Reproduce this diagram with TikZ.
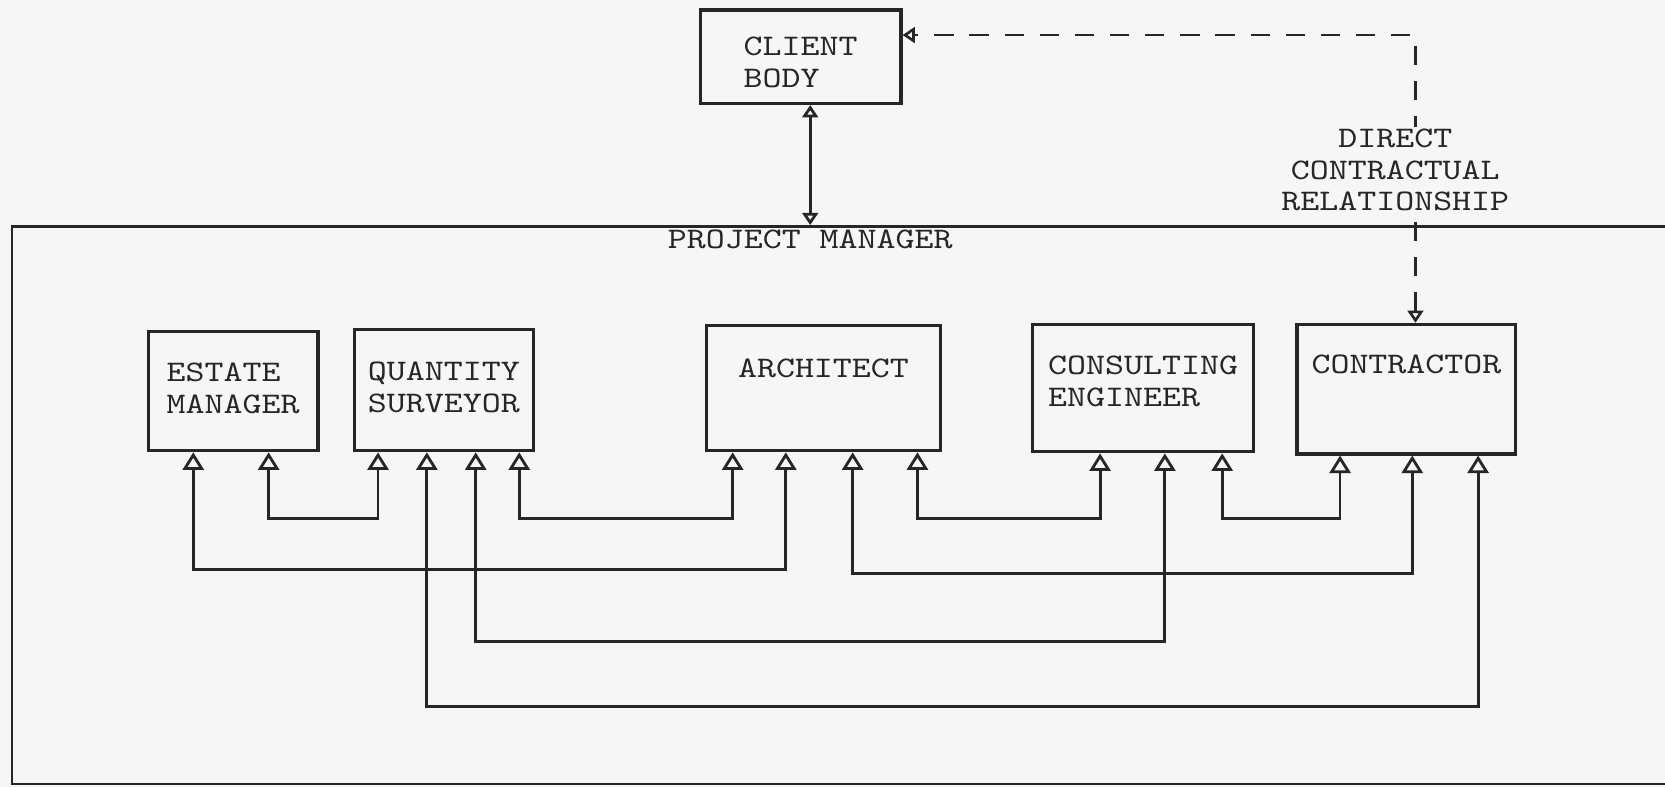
\documentclass[tikz,border=0pt]{standalone}
\usepackage{fontspec}
\usepackage{tikz}
\usetikzlibrary{arrows.meta,calc}
\newfontfamily\twfont{lmmono10-regular.otf}[FakeStretch=1.21]
\definecolor{ink}{RGB}{38,38,38}
\definecolor{paper}{RGB}{246,246,246}
\newlength\px
\setlength\px{0.021238cm}
\tikzset{
  box/.style  ={draw=ink, line width=1.8pt, inner sep=0pt, align=left, text=ink, anchor=north west,
                font=\twfont\fontsize{17}{18}\selectfont},
  frame/.style={draw=ink, line width=1.4pt, inner sep=0pt, anchor=north west},
  lbl/.style  ={text=ink, align=center, inner sep=1pt, font=\twfont\fontsize{17}{18}\selectfont},
  link/.style ={{Triangle[open,length=10pt,width=12pt]}-{Triangle[open,length=10pt,width=12pt]}, draw=ink, line width=1.6pt},
  plink/.style={{Triangle[open,length=7pt,width=9pt]}-{Triangle[open,length=7pt,width=9pt]}, draw=ink, line width=1.6pt},
  dlink/.style={{Triangle[open,length=7pt,width=9pt]}-{Triangle[open,length=7pt,width=9pt]}, draw=ink, line width=1.5pt,
                dash pattern=on 11pt off 9pt}
}
\begin{document}
\begin{tikzpicture}[x=0.021238cm, y=-0.021238cm]
  \useasboundingbox[fill=paper] (0,0) rectangle (1568,741);
  \clip (0,0) rectangle (1568,741);
  \node[frame, minimum width=1580\px, minimum height=525\px] (pm) at (10,212) {};
  \node[lbl] (pmtitle) at (763,225) {PROJECT MANAGER};
  \node[box, minimum width=189\px, minimum height=88\px, text height=73\px, text depth=15\px] (client) at (658,8) {CLIENT\\BODY};
  \node[box, minimum width=160\px, minimum height=112\px, text height=77\px, text depth=35\px] (em) at (138,311) {ESTATE\\MANAGER};
  \node[box, minimum width=169\px, minimum height=114\px, text height=78\px, text depth=36\px] (qs) at (332,309) {QUANTITY\\SURVEYOR};
  \node[box, minimum width=220\px, minimum height=118\px, text height=49\px, text depth=69\px] (arch) at (664,305) {ARCHITECT};
  \node[box, minimum width=208\px, minimum height=120\px, text height=77\px, text depth=43\px] (ce) at (971,304) {CONSULTING\\ENGINEER};
  \node[box, minimum width=206\px, minimum height=122\px, text height=46\px, text depth=76\px] (con) at (1220,304) {CONTRACTOR};
  \draw[plink] (client.south -| pmtitle) -- (pm.north -| pmtitle);
  \draw[dlink] ($(con.north west)+(113,0)$) |- ($(client.north east)+(0,25)$);
  \node[lbl, fill=paper] (rel) at (1314,160) {DIRECT\\CONTRACTUAL\\RELATIONSHIP};
  \draw[link] ($(em.south west)+(44,0)$) -- ++(0,110) -| ($(arch.south west)+(76,0)$);
  \draw[link] ($(em.south west)+(115,0)$) -- ++(0,62) -| ($(qs.south west)+(24,0)$);
  \draw[link] ($(qs.south west)+(70,0)$) -- ++(0,239) -| ($(con.south west)+(172,0)$);
  \draw[link] ($(qs.south west)+(116,0)$) -- ++(0,178) -| ($(ce.south west)+(126,0)$);
  \draw[link] ($(qs.south west)+(157,0)$) -- ++(0,62) -| ($(arch.south west)+(26,0)$);
  \draw[link] ($(arch.south west)+(139,0)$) -- ++(0,114) -| ($(con.south west)+(110,0)$);
  \draw[link] ($(arch.south west)+(200,0)$) -- ++(0,62) -| ($(ce.south west)+(65,0)$);
  \draw[link] ($(ce.south west)+(180,0)$) -- ++(0,61) -| ($(con.south west)+(42,0)$);
\end{tikzpicture}
\end{document}
